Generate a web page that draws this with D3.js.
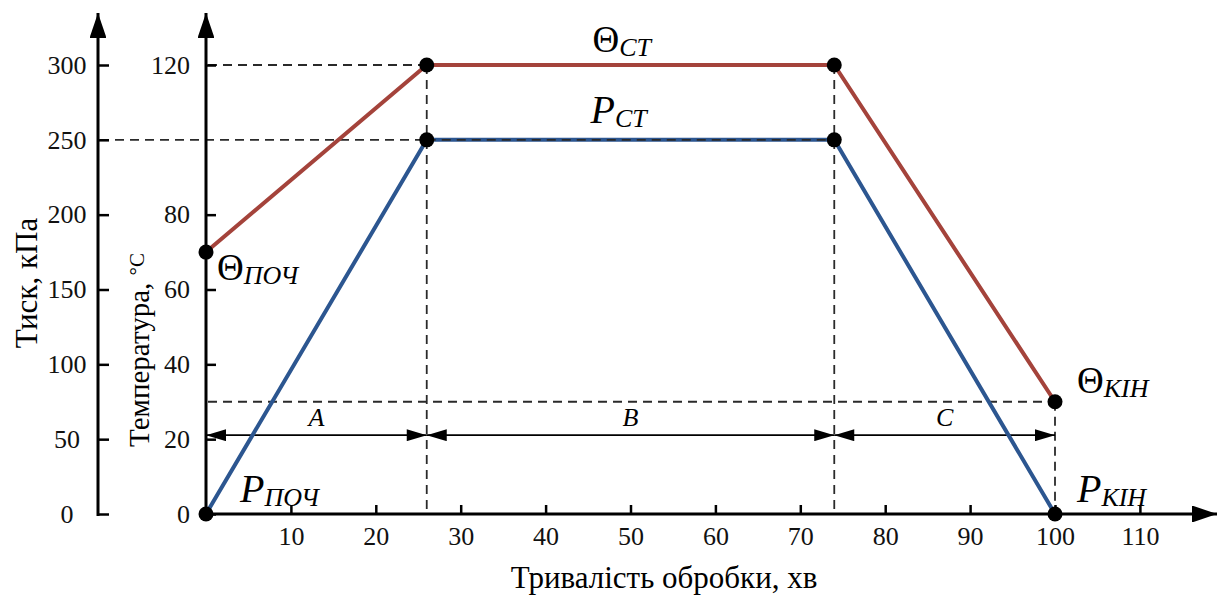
<!DOCTYPE html>
<html>
<head>
<meta charset="utf-8">
<script src="https://cdn.jsdelivr.net/npm/d3@7"></script>
<style>
  body { margin: 0; background: #fff; }
  svg, .axis { font-family: "Liberation Serif", "Times New Roman", serif; }
  .axis text { font-size: 26px; fill: #111; }
  .axis line { stroke: #000; stroke-width: 2.5; }
  .dash { stroke: #2a2a2a; stroke-width: 1.8; stroke-dasharray: 9 6; fill: none; }
</style>
</head>
<body>
<div id="chart"></div>
<script>
// process data
const timeMin = [0, 26, 74, 100]
const tempC = [70, 120, 120, 30]
const pressKPa = [0, 250, 250, 0]

const stageNames = ["A", "B", "C"]
const stageStart = [0, 26, 74]
const stageEnd = [26, 74, 100]

const timeTicks = [10, 20, 30, 40, 50, 60, 70, 80, 90, 100, 110]
const tempTicks = [0, 20, 40, 60, 80, 120]
const pressTicks = [0, 50, 100, 150, 200, 250, 300]

const width = 1222, height = 599

const svg = d3.select("#chart")
    .append("svg")
    .attr("width", width)
    .attr("height", height)

const xAxisX = 206, pAxisX = 98, baseY = 514

const x = d3.scaleLinear().domain([0, 100]).range([xAxisX, 1055])
const yT = d3.scaleLinear().domain([0, 120]).range([baseY, 65])
const yP = d3.scaleLinear().domain([0, 300]).range([baseY, 65])

// arrow heads
const defs = svg.append("defs")
defs.append("marker")
    .attr("id", "tip")
    .attr("viewBox", "0 -6 20 12")
    .attr("refX", 20).attr("refY", 0)
    .attr("markerUnits", "userSpaceOnUse")
    .attr("markerWidth", 21).attr("markerHeight", 12)
    .attr("orient", "auto-start-reverse")
    .append("path").attr("d", "M0,-6L20,0L0,6Z").attr("fill", "#000")
defs.append("marker")
    .attr("id", "bigtip")
    .attr("viewBox", "0 -8 25 16")
    .attr("refX", 25).attr("refY", 0)
    .attr("markerUnits", "userSpaceOnUse")
    .attr("markerWidth", 25).attr("markerHeight", 16)
    .attr("orient", "auto")
    .append("path").attr("d", "M0,-8.5L25,0L0,8.5Z").attr("fill", "#000")

// dashed guide lines
const guides = svg.append("g")
guides.append("line").attr("class", "dash")
    .attr("x1", xAxisX + 2).attr("x2", x(timeMin[1]))
    .attr("y1", yT(tempC[1])).attr("y2", yT(tempC[1]))
guides.append("line").attr("class", "dash")
    .attr("x1", pAxisX + 2).attr("x2", x(timeMin[2]))
    .attr("y1", yP(pressKPa[1])).attr("y2", yP(pressKPa[1]))
guides.append("line").attr("class", "dash")
    .attr("x1", xAxisX + 2).attr("x2", x(timeMin[3]))
    .attr("y1", yT(tempC[3])).attr("y2", yT(tempC[3]))
guides.append("line").attr("class", "dash")
    .attr("x1", x(timeMin[1])).attr("x2", x(timeMin[1]))
    .attr("y1", yT(tempC[1])).attr("y2", baseY)
guides.append("line").attr("class", "dash")
    .attr("x1", x(timeMin[2])).attr("x2", x(timeMin[2]))
    .attr("y1", yT(tempC[2])).attr("y2", baseY)
guides.append("line").attr("class", "dash")
    .attr("x1", x(timeMin[3])).attr("x2", x(timeMin[3]))
    .attr("y1", yT(tempC[3])).attr("y2", baseY)

// stage dimension arrows
const dimY = yT(20) - 4
stageNames.forEach((s, i) => {
    svg.append("line")
        .attr("x1", x(stageStart[i])).attr("x2", x(stageEnd[i]))
        .attr("y1", dimY).attr("y2", dimY)
        .attr("stroke", "#000").attr("stroke-width", 1.6)
        .attr("marker-start", "url(#tip)")
        .attr("marker-end", "url(#tip)")
    svg.append("text")
        .attr("x", (x(stageStart[i]) + x(stageEnd[i])) / 2)
        .attr("y", dimY - 9)
        .attr("text-anchor", "middle")
        .attr("font-style", "italic")
        .attr("font-size", 26)
        .text(s)
})

// lines
const pts = timeMin.map((t, i) => ({ t: t, temp: tempC[i], p: pressKPa[i] }))

svg.append("path")
    .datum(pts)
    .attr("fill", "none")
    .attr("stroke", "#a4433b")
    .attr("stroke-width", 4)
    .attr("d", d3.line().x(d => x(d.t)).y(d => yT(d.temp)))

svg.append("path")
    .datum(pts)
    .attr("fill", "none")
    .attr("stroke", "#2c5690")
    .attr("stroke-width", 4)
    .attr("d", d3.line().x(d => x(d.t)).y(d => yP(d.p)))

// dashes showing on top of the flat pressure part
svg.append("line").attr("class", "dash")
    .attr("x1", x(timeMin[1])).attr("x2", x(timeMin[2]))
    .attr("y1", yP(pressKPa[1])).attr("y2", yP(pressKPa[1]))
    .attr("stroke-width", 1.2)

// axes
const xaxis = d3.axisBottom(x).tickValues(timeTicks).tickSizeInner(-9).tickSizeOuter(0).tickPadding(13)
svg.append("g")
    .attr("class", "axis")
    .attr("transform", `translate(0,${baseY})`)
    .call(xaxis)
    .call(g => g.select(".domain").remove())

const taxis = d3.axisLeft(yT).tickValues(tempTicks).tickSizeInner(-10).tickSizeOuter(0).tickPadding(16)
svg.append("g")
    .attr("class", "axis")
    .attr("transform", `translate(${xAxisX},0)`)
    .call(taxis)
    .call(g => g.select(".domain").remove())

const paxis = d3.axisLeft(yP).tickValues(pressTicks).tickSizeInner(-11).tickSizeOuter(0).tickPadding(31)
svg.append("g")
    .attr("class", "axis")
    .attr("transform", `translate(${pAxisX},0)`)
    .call(paxis)
    .call(g => g.select(".domain").remove())
    .selectAll("text").attr("text-anchor", "middle")

// axis lines with arrows
svg.append("line")
    .attr("x1", xAxisX).attr("x2", 1217).attr("y1", baseY).attr("y2", baseY)
    .attr("stroke", "#000").attr("stroke-width", 3).attr("marker-end", "url(#bigtip)")
svg.append("line")
    .attr("x1", xAxisX).attr("x2", xAxisX).attr("y1", baseY).attr("y2", 13)
    .attr("stroke", "#000").attr("stroke-width", 3).attr("marker-end", "url(#bigtip)")
svg.append("line")
    .attr("x1", pAxisX).attr("x2", pAxisX).attr("y1", baseY + 2).attr("y2", 13)
    .attr("stroke", "#000").attr("stroke-width", 3).attr("marker-end", "url(#bigtip)")

// points
svg.selectAll(".dot-t")
    .data(pts)
    .enter().append("circle")
    .attr("class", "dot-t")
    .attr("cx", d => x(d.t)).attr("cy", d => yT(d.temp))
    .attr("r", 7.5)
svg.selectAll(".dot-p")
    .data(pts)
    .enter().append("circle")
    .attr("class", "dot-p")
    .attr("cx", d => x(d.t)).attr("cy", d => yP(d.p))
    .attr("r", 7.5)

// point labels: symbol + italic subscript
function label(px, py, sym, sub, symItalic) {
    const t = svg.append("text").attr("x", px).attr("y", py)
    t.append("tspan")
        .attr("font-size", symItalic ? 40 : 37)
        .attr("font-style", symItalic ? "italic" : "normal")
        .text(sym)
    t.append("tspan")
        .attr("font-size", 26)
        .attr("font-style", "italic")
        .attr("dy", 4)
        .text(sub)
}
label(x(0) + 11, yT(tempC[0]) + 28, "Θ", "ПОЧ", false)
label((x(timeMin[1]) + x(timeMin[2])) / 2 - 38, yT(120) - 13, "Θ", "СТ", false)
label((x(timeMin[1]) + x(timeMin[2])) / 2 - 40, yP(250) - 17, "P", "СТ", true)
label(x(100) + 22, yT(tempC[3]) - 9, "Θ", "КІН", false)
label(x(0) + 34, baseY - 12, "P", "ПОЧ", true)
label(x(100) + 22, baseY - 12, "P", "КІН", true)

// axis titles
svg.append("text")
    .attr("transform", "translate(37,283) rotate(-90)")
    .attr("text-anchor", "middle")
    .attr("font-size", 31)
    .text("Тиск, кПа")

const tt = svg.append("text")
    .attr("transform", "translate(149,350) rotate(-90)")
    .attr("text-anchor", "middle")
    .attr("font-size", 29)
tt.append("tspan").text("Температура, ")
tt.append("tspan").attr("font-size", 21).attr("dy", -5).text("°С")

svg.append("text")
    .attr("x", 664).attr("y", 588)
    .attr("text-anchor", "middle")
    .attr("font-size", 31)
    .text("Тривалість обробки, хв")
</script>
</body>
</html>
